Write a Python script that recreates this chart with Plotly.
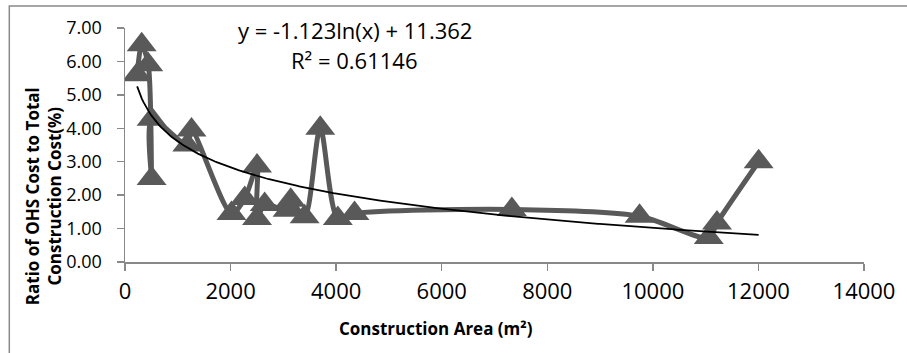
import numpy as np
import plotly.graph_objects as go

# ---- data ----
areas = [230, 316, 441, 504, 504, 1180, 1260, 2017, 2268, 2501, 2501, 2646,
         3080, 3140, 3403, 3699, 4032, 4348, 7329, 9748, 11059, 11215, 12004]
ratios = [5.6, 6.5, 5.9, 2.5, 4.27, 3.5, 3.95, 1.45, 1.9, 2.87, 1.3, 1.72,
          1.55, 1.85, 1.35, 4.0, 1.3, 1.45, 1.57, 1.37, 0.73, 1.17, 3.0]

y_tick_vals = [0, 1, 2, 3, 4, 5, 6, 7]
x_tick_vals = [0, 2000, 4000, 6000, 8000, 10000, 12000, 14000]

trend_slope = -1.123
trend_intercept = 11.362
eq_text = "y = -1.123ln(x) + 11.362"
r2_text = "R² = 0.61146"

x_title = "Construction Area (m²)"
y_title = "Ratio of OHS Cost to Total<br>Construction Cost(%)"

# ---- layout geometry ----
W, H = 907, 353
ML, MR, MT, MB = 125, 41, 28, 91
PW = W - ML - MR
PH = H - MT - MB


def px_x(p):
    return (p - ML) / PW


def px_y(p):
    return (H - MB - p) / PH


DATA_COLOR = "#595959"
AXIS_COLOR = "#898989"
FONT = "Open Sans"

trend_x = np.linspace(min(areas), max(areas), 400)
trend_y = trend_slope * np.log(trend_x) + trend_intercept

fig = go.Figure()
fig.add_trace(go.Scatter(
    x=areas, y=ratios, mode="lines+markers",
    line=dict(color=DATA_COLOR, width=5, shape="spline", smoothing=0.8),
    marker=dict(symbol="triangle-up", size=26, color=DATA_COLOR),
    showlegend=False, hoverinfo="x+y",
))
fig.add_trace(go.Scatter(
    x=trend_x, y=trend_y, mode="lines",
    line=dict(color="black", width=1.8),
    showlegend=False, hoverinfo="skip",
))

fig.update_layout(
    width=W, height=H,
    margin=dict(l=ML, r=MR, t=MT, b=MB, pad=0),
    paper_bgcolor="white", plot_bgcolor="white",
    font=dict(family=FONT, color="black"),
    xaxis=dict(
        range=[0, 14000], tickvals=x_tick_vals,
        ticktext=[str(v) for v in x_tick_vals],
        showgrid=False, zeroline=False,
        showline=True, linecolor=AXIS_COLOR, linewidth=1.5,
        ticks="outside", ticklen=7, tickwidth=1.5, tickcolor=AXIS_COLOR,
        tickfont=dict(family=FONT, size=22, color="black"),
        ticklabelstandoff=2,
        fixedrange=True,
    ),
    yaxis=dict(
        range=[0, 7], tickvals=y_tick_vals,
        ticktext=[f"{v:.2f}" for v in y_tick_vals],
        showgrid=False, zeroline=False,
        showline=True, linecolor=AXIS_COLOR, linewidth=1.5,
        ticks="outside", ticklen=7, tickwidth=1.5, tickcolor=AXIS_COLOR,
        tickfont=dict(family=FONT, size=18, color="black"),
        ticklabelstandoff=11,
        fixedrange=True,
    ),
    shapes=[
        dict(type="rect", xref="paper", yref="paper",
             x0=px_x(9), x1=px_x(W + 20), y0=px_y(H + 20), y1=px_y(6),
             line=dict(color=AXIS_COLOR, width=1.5), fillcolor="rgba(0,0,0,0)",
             layer="below"),
    ],
    annotations=[
        dict(text=eq_text, xref="paper", yref="paper",
             x=px_x(356), y=px_y(30), xanchor="center", yanchor="middle",
             showarrow=False, font=dict(family=FONT, size=22, color="black")),
        dict(text=r2_text, xref="paper", yref="paper",
             x=px_x(355), y=px_y(60), xanchor="center", yanchor="middle",
             showarrow=False, font=dict(family=FONT, size=22, color="black")),
        dict(text="<b>" + x_title + "</b>", xref="paper", yref="paper",
             x=px_x(437), y=px_y(329), xanchor="center", yanchor="middle",
             showarrow=False, font=dict(family=FONT, size=17, color="black")),
        dict(text="<b>" + y_title + "</b>", xref="paper", yref="paper",
             x=px_x(43), y=px_y(196), xanchor="center", yanchor="middle",
             textangle=-90, showarrow=False,
             font=dict(family=FONT, size=17, color="black")),
    ],
)

fig.write_html("out.html",
               config={"displayModeBar": False, "staticPlot": True},
               post_script="document.body.style.margin='0';")
